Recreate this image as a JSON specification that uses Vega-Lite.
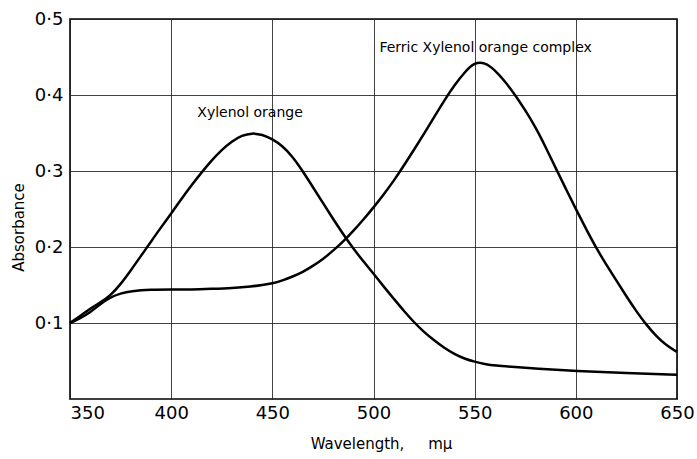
{
  "$schema": "https://vega.github.io/schema/vega-lite/v6.json",
  "width": 607,
  "height": 380,
  "autosize": {"type": "none"},
  "padding": {"left": 70, "top": 19, "right": 20, "bottom": 60},
  "background": "white",
  "config": {
    "view": {"stroke": "black", "strokeWidth": 1.6},
    "font": "DejaVu Sans"
  },
  "datasets": {
    "curves": [
      {"wl": 350, "a": 0.100, "s": "Xylenol orange"},
      {"wl": 355, "a": 0.109, "s": "Xylenol orange"},
      {"wl": 360, "a": 0.119, "s": "Xylenol orange"},
      {"wl": 365, "a": 0.127, "s": "Xylenol orange"},
      {"wl": 370, "a": 0.136, "s": "Xylenol orange"},
      {"wl": 375, "a": 0.151, "s": "Xylenol orange"},
      {"wl": 380, "a": 0.169, "s": "Xylenol orange"},
      {"wl": 385, "a": 0.188, "s": "Xylenol orange"},
      {"wl": 390, "a": 0.207, "s": "Xylenol orange"},
      {"wl": 395, "a": 0.226, "s": "Xylenol orange"},
      {"wl": 400, "a": 0.244, "s": "Xylenol orange"},
      {"wl": 405, "a": 0.263, "s": "Xylenol orange"},
      {"wl": 410, "a": 0.281, "s": "Xylenol orange"},
      {"wl": 415, "a": 0.298, "s": "Xylenol orange"},
      {"wl": 420, "a": 0.314, "s": "Xylenol orange"},
      {"wl": 425, "a": 0.328, "s": "Xylenol orange"},
      {"wl": 430, "a": 0.339, "s": "Xylenol orange"},
      {"wl": 435, "a": 0.347, "s": "Xylenol orange"},
      {"wl": 440, "a": 0.350, "s": "Xylenol orange"},
      {"wl": 445, "a": 0.348, "s": "Xylenol orange"},
      {"wl": 450, "a": 0.342, "s": "Xylenol orange"},
      {"wl": 455, "a": 0.333, "s": "Xylenol orange"},
      {"wl": 460, "a": 0.319, "s": "Xylenol orange"},
      {"wl": 465, "a": 0.300, "s": "Xylenol orange"},
      {"wl": 470, "a": 0.279, "s": "Xylenol orange"},
      {"wl": 475, "a": 0.258, "s": "Xylenol orange"},
      {"wl": 480, "a": 0.237, "s": "Xylenol orange"},
      {"wl": 485, "a": 0.217, "s": "Xylenol orange"},
      {"wl": 490, "a": 0.198, "s": "Xylenol orange"},
      {"wl": 495, "a": 0.181, "s": "Xylenol orange"},
      {"wl": 500, "a": 0.165, "s": "Xylenol orange"},
      {"wl": 505, "a": 0.148, "s": "Xylenol orange"},
      {"wl": 510, "a": 0.132, "s": "Xylenol orange"},
      {"wl": 515, "a": 0.116, "s": "Xylenol orange"},
      {"wl": 520, "a": 0.101, "s": "Xylenol orange"},
      {"wl": 525, "a": 0.088, "s": "Xylenol orange"},
      {"wl": 530, "a": 0.077, "s": "Xylenol orange"},
      {"wl": 535, "a": 0.067, "s": "Xylenol orange"},
      {"wl": 540, "a": 0.059, "s": "Xylenol orange"},
      {"wl": 545, "a": 0.053, "s": "Xylenol orange"},
      {"wl": 550, "a": 0.049, "s": "Xylenol orange"},
      {"wl": 555, "a": 0.046, "s": "Xylenol orange"},
      {"wl": 560, "a": 0.044, "s": "Xylenol orange"},
      {"wl": 570, "a": 0.042, "s": "Xylenol orange"},
      {"wl": 580, "a": 0.040, "s": "Xylenol orange"},
      {"wl": 600, "a": 0.037, "s": "Xylenol orange"},
      {"wl": 625, "a": 0.034, "s": "Xylenol orange"},
      {"wl": 650, "a": 0.032, "s": "Xylenol orange"},
      {"wl": 350, "a": 0.100, "s": "Ferric"},
      {"wl": 355, "a": 0.106, "s": "Ferric"},
      {"wl": 360, "a": 0.114, "s": "Ferric"},
      {"wl": 365, "a": 0.125, "s": "Ferric"},
      {"wl": 370, "a": 0.134, "s": "Ferric"},
      {"wl": 375, "a": 0.139, "s": "Ferric"},
      {"wl": 380, "a": 0.142, "s": "Ferric"},
      {"wl": 390, "a": 0.144, "s": "Ferric"},
      {"wl": 400, "a": 0.144, "s": "Ferric"},
      {"wl": 410, "a": 0.144, "s": "Ferric"},
      {"wl": 420, "a": 0.145, "s": "Ferric"},
      {"wl": 430, "a": 0.146, "s": "Ferric"},
      {"wl": 440, "a": 0.148, "s": "Ferric"},
      {"wl": 445, "a": 0.150, "s": "Ferric"},
      {"wl": 450, "a": 0.152, "s": "Ferric"},
      {"wl": 455, "a": 0.156, "s": "Ferric"},
      {"wl": 460, "a": 0.161, "s": "Ferric"},
      {"wl": 465, "a": 0.167, "s": "Ferric"},
      {"wl": 470, "a": 0.175, "s": "Ferric"},
      {"wl": 475, "a": 0.184, "s": "Ferric"},
      {"wl": 480, "a": 0.195, "s": "Ferric"},
      {"wl": 485, "a": 0.207, "s": "Ferric"},
      {"wl": 490, "a": 0.221, "s": "Ferric"},
      {"wl": 495, "a": 0.236, "s": "Ferric"},
      {"wl": 500, "a": 0.252, "s": "Ferric"},
      {"wl": 505, "a": 0.269, "s": "Ferric"},
      {"wl": 510, "a": 0.287, "s": "Ferric"},
      {"wl": 515, "a": 0.307, "s": "Ferric"},
      {"wl": 520, "a": 0.328, "s": "Ferric"},
      {"wl": 525, "a": 0.349, "s": "Ferric"},
      {"wl": 530, "a": 0.371, "s": "Ferric"},
      {"wl": 535, "a": 0.393, "s": "Ferric"},
      {"wl": 540, "a": 0.413, "s": "Ferric"},
      {"wl": 545, "a": 0.430, "s": "Ferric"},
      {"wl": 550, "a": 0.443, "s": "Ferric"},
      {"wl": 555, "a": 0.443, "s": "Ferric"},
      {"wl": 560, "a": 0.433, "s": "Ferric"},
      {"wl": 565, "a": 0.418, "s": "Ferric"},
      {"wl": 570, "a": 0.400, "s": "Ferric"},
      {"wl": 575, "a": 0.380, "s": "Ferric"},
      {"wl": 580, "a": 0.358, "s": "Ferric"},
      {"wl": 585, "a": 0.332, "s": "Ferric"},
      {"wl": 590, "a": 0.304, "s": "Ferric"},
      {"wl": 595, "a": 0.277, "s": "Ferric"},
      {"wl": 600, "a": 0.250, "s": "Ferric"},
      {"wl": 605, "a": 0.224, "s": "Ferric"},
      {"wl": 610, "a": 0.199, "s": "Ferric"},
      {"wl": 615, "a": 0.177, "s": "Ferric"},
      {"wl": 620, "a": 0.156, "s": "Ferric"},
      {"wl": 625, "a": 0.135, "s": "Ferric"},
      {"wl": 630, "a": 0.115, "s": "Ferric"},
      {"wl": 635, "a": 0.097, "s": "Ferric"},
      {"wl": 640, "a": 0.082, "s": "Ferric"},
      {"wl": 645, "a": 0.070, "s": "Ferric"},
      {"wl": 650, "a": 0.062, "s": "Ferric"}
    ],
    "labels": [
      {"wl": 439, "a": 0.376, "t": "Xylenol orange"},
      {"wl": 555.4, "a": 0.462, "t": "Ferric Xylenol orange complex"}
    ]
  },
  "layer": [
    {
      "data": {"name": "curves"},
      "mark": {"type": "line", "color": "black", "strokeWidth": 2.5, "interpolate": "basis"},
      "encoding": {
        "x": {
          "field": "wl", "type": "quantitative",
          "scale": {"domain": [350, 650], "nice": false, "zero": false},
          "axis": {
            "values": [350, 400, 450, 500, 550, 600, 650],
            "title": "Wavelength,\u00a0\u00a0\u00a0\u00a0 mμ",
            "titleFont": "DejaVu Sans", "titleFontSize": 15, "titleFontWeight": "normal", "titleColor": "black",
            "titleX": 311, "titleY": 44, "titleBaseline": "middle",
            "labelFont": "DejaVu Sans", "labelFontSize": 18, "labelColor": "black",
            "labelAlign": {"condition": {"test": "datum.value == 350", "value": "left"}, "value": "center"},
            "labelPadding": 5,
            "tickSize": 0, "domain": false,
            "grid": true, "gridColor": "#222", "gridWidth": 1, "gridOpacity": 0.85
          }
        },
        "y": {
          "field": "a", "type": "quantitative",
          "scale": {"domain": [0, 0.5], "nice": false},
          "axis": {
            "values": [0.1, 0.2, 0.3, 0.4, 0.5],
            "labelExpr": "replace(format(datum.value, '.1f'), '.', '·')",
            "title": "Absorbance",
            "titleFont": "DejaVu Sans", "titleFontSize": 15, "titleFontWeight": "normal", "titleColor": "black",
            "titleX": -52, "titleY": 208, "titleBaseline": "middle", "titleAngle": -90,
            "labelFont": "DejaVu Sans", "labelFontSize": 18, "labelColor": "black",
            "labelPadding": 7,
            "tickSize": 0, "domain": false,
            "grid": true, "gridColor": "#222", "gridWidth": 1, "gridOpacity": 0.85
          }
        },
        "detail": {"field": "s"}
      }
    },
    {
      "data": {"name": "labels"},
      "mark": {"type": "text", "font": "DejaVu Sans", "fontSize": 14, "color": "black", "baseline": "middle", "align": "center"},
      "encoding": {
        "x": {"field": "wl", "type": "quantitative"},
        "y": {"field": "a", "type": "quantitative"},
        "text": {"field": "t"}
      }
    }
  ]
}
